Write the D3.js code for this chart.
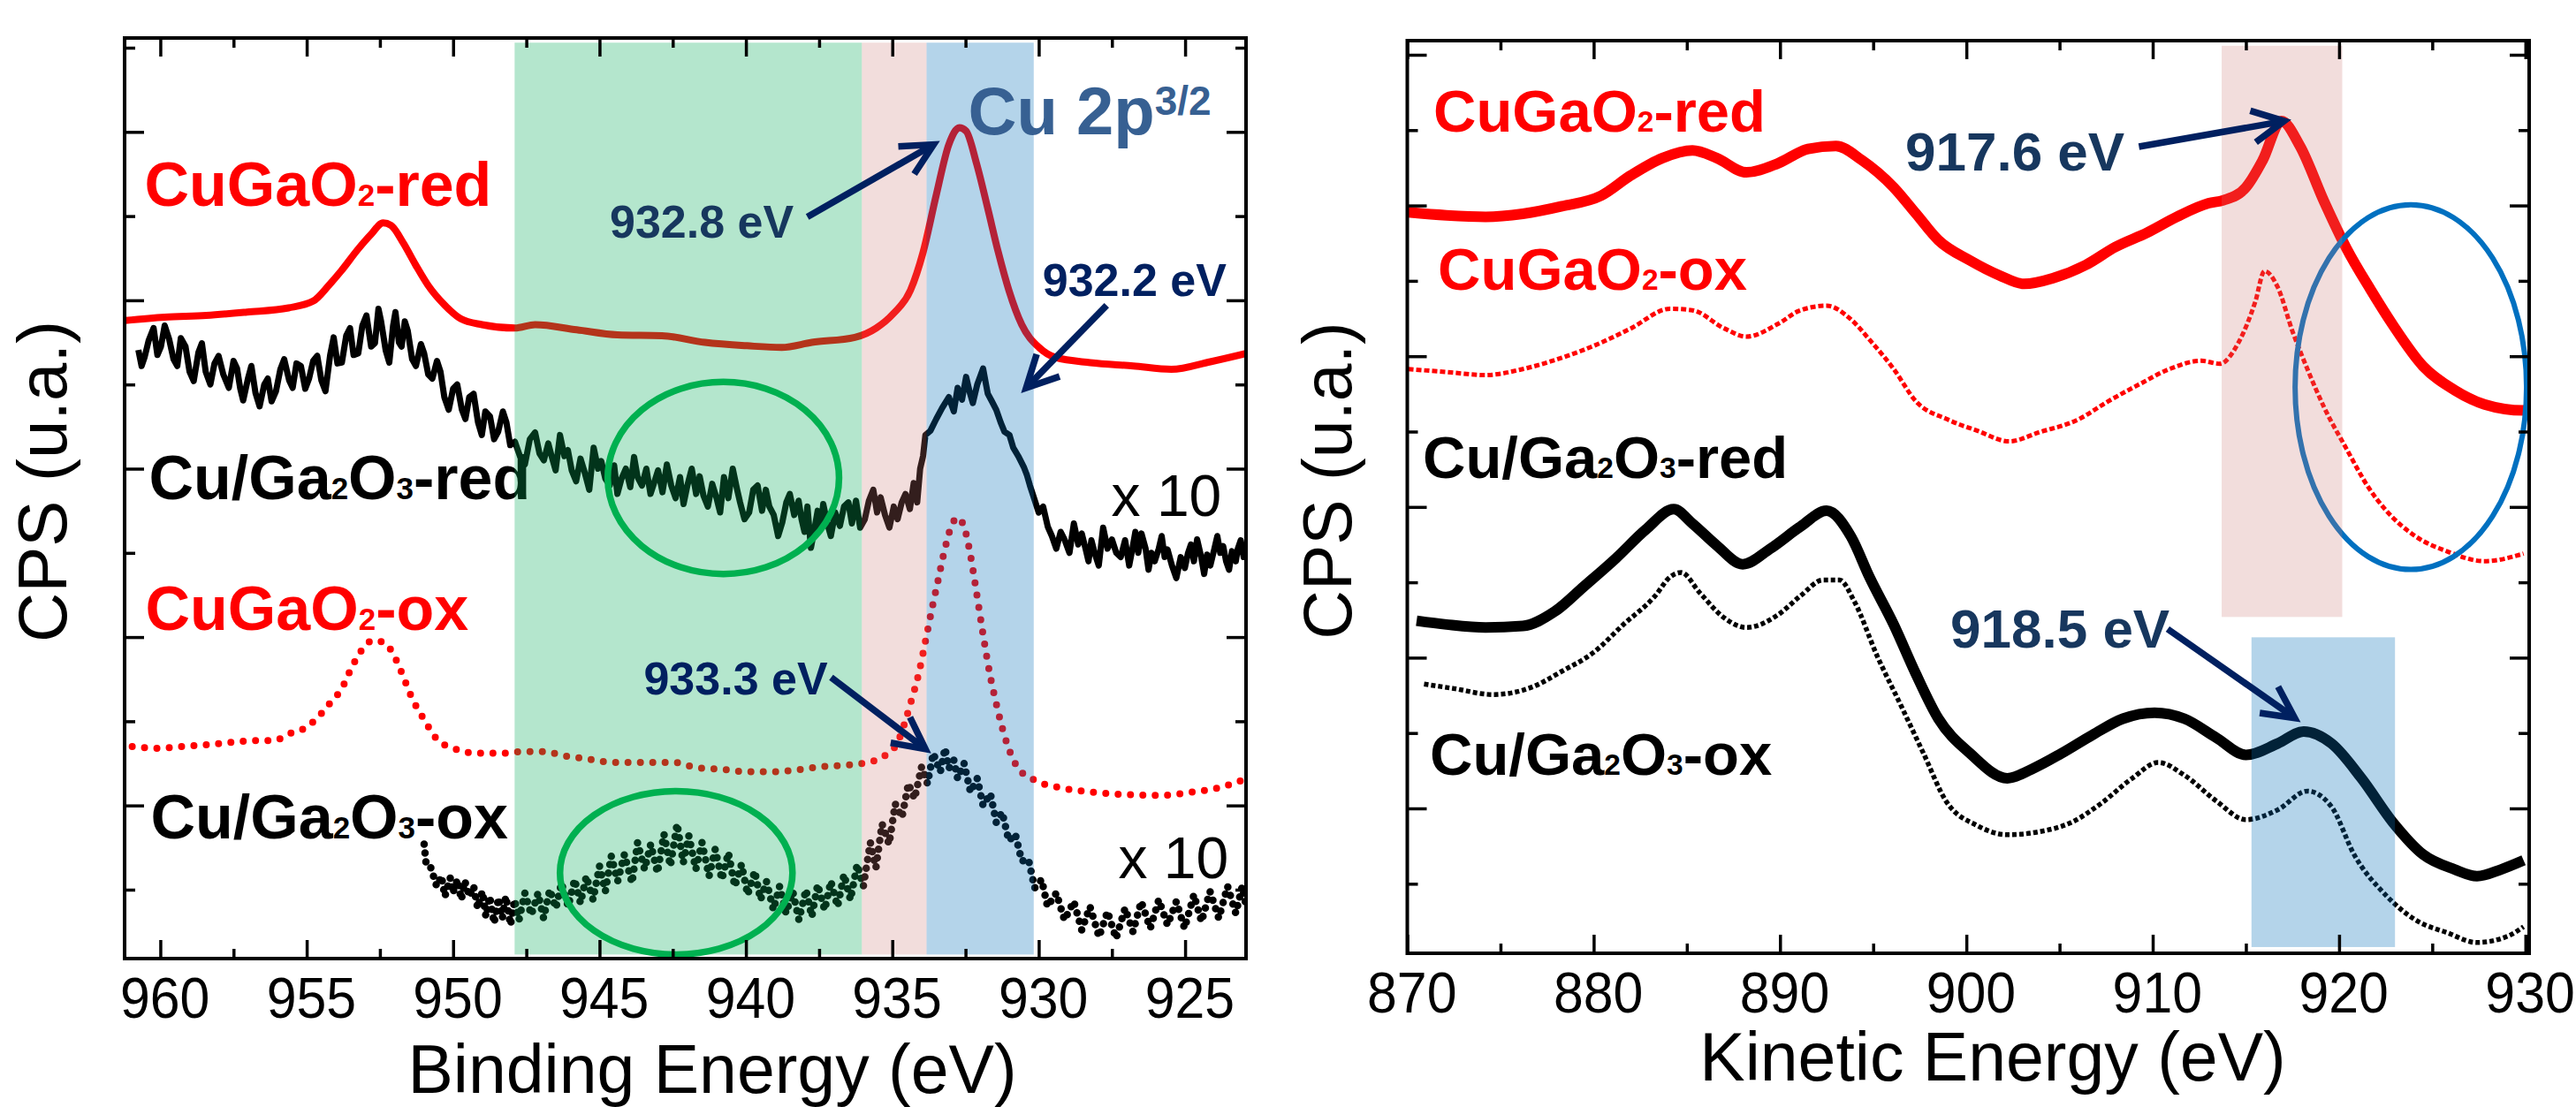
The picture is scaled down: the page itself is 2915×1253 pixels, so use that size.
<!DOCTYPE html>
<html>
<head>
<meta charset="utf-8">
<script src="https://cdn.jsdelivr.net/npm/d3@7"></script>
<style>
  html, body { margin: 0; padding: 0; background: #fff; }
  svg text { font-family: "Liberation Sans", Arial, Helvetica, sans-serif; }
</style>
</head>
<body>
<svg id="chart" width="2915" height="1253"></svg>
<script>
// ---------- data (energies in eV, intensities in arbitrary counts) ----------
var beMajor = [960, 955, 950, 945, 940, 935, 930, 925],
    beMinor = [957.5, 952.5, 947.5, 942.5, 937.5, 932.5, 927.5],
    keMajor = [870, 880, 890, 900, 910, 920, 930],
    keMinor = [875, 885, 895, 905, 915, 925],
    cpsMajor = [200, 400, 600, 800, 1000],
    cpsMinor = [100, 300, 500, 700, 900, 1100],
    cpsMinorR = [100, 300, 500, 700, 900, 1100],
    cpsMajorR = [200, 400, 600, 800, 1000, 1200];

// Cu 2p spectra (left)
var cuGaO2RedBE = [[961.2,776],[959.85,780],[958.43,782],[957.04,786],[955.62,791],[954.78,799],[954.24,818],[953.82,835],[953.24,861],[952.81,878],[952.39,892],[952.12,889],[951.70,868],[951.28,842],[950.86,818],[950.28,794],[949.74,778],[949.01,771],[947.89,767],[947.20,771],[945.78,765],[944.39,759],[942.87,758],[941.40,750],[939.96,746],[938.78,744],[937.75,750],[936.28,756],[935.55,767],[934.97,784],[934.38,812],[933.95,857],[933.50,925],[933.07,985],[932.71,1005],[932.48,1001],[932.12,962],[931.74,909],[931.38,857],[931.02,812],[930.58,771],[929.99,744],[929.42,732],[928.24,726],[926.77,722],[925.47,718],[924.14,727],[922.9,737]];

var cuGa2O3RedBE = [[960.75,741],[960.64,722],[960.54,732],[960.4,752],[960.23,767],[960.1,735],[959.98,745],[959.85,770],[959.70,754],[959.55,730],[959.42,722],[959.3,755],[959.14,745],[959.0,715],[958.86,704],[958.7,738],[958.58,749],[958.45,715],[958.29,700],[958.15,725],[958.01,734],[957.85,712],[957.66,696],[957.5,728],[957.38,719],[957.27,695],[957.17,681],[957.0,708],[956.89,722],[956.75,690],[956.61,674],[956.45,700],[956.33,707],[956.2,680],[956.05,692],[955.9,718],[955.77,730],[955.6,705],[955.48,696],[955.35,725],[955.20,722],[955.05,695],[954.92,707],[954.78,728],[954.64,734],[954.5,705],[954.36,692],[954.2,735],[954.08,756],[953.95,725],[953.80,726],[953.65,758],[953.52,767],[953.4,735],[953.24,737],[953.1,770],[952.96,782],[952.8,745],[952.67,749],[952.55,790],[952.46,775],[952.3,740],[952.18,726],[952.05,770],[951.97,786],[951.85,750],[951.76,745],[951.65,775],[951.55,764],[951.4,730],[951.27,722],[951.1,748],[950.99,737],[950.85,712],[950.71,707],[950.55,728],[950.43,715],[950.3,685],[950.15,670],[950.0,695],[949.86,700],[949.7,670],[949.58,659],[949.45,685],[949.30,689],[949.15,655],[949.02,640],[948.9,668],[948.74,662],[948.6,635],[948.46,644],[948.3,668],[948.18,655],[948.05,628],[947.89,632],[947.72,615],[947.55,605],[947.38,635],[947.20,643],[947.05,618],[946.9,610],[946.75,630],[946.63,614],[946.5,598],[946.35,640],[946.2,615],[946.08,622],[945.95,598],[945.8,585],[945.65,612],[945.51,596],[945.35,575],[945.2,625],[945.05,600],[944.94,609],[944.8,588],[944.65,580],[944.5,604],[944.39,570],[944.25,588],[944.1,600],[943.95,578],[943.82,614],[943.7,590],[943.55,580],[943.4,600],[943.26,570],[943.12,585],[943.0,598],[942.85,572],[942.70,605],[942.55,580],[942.4,565],[942.25,590],[942.13,558],[942.0,580],[941.85,600],[941.7,570],[941.58,591],[941.45,568],[941.3,555],[941.15,582],[941.01,566],[940.88,548],[940.75,590],[940.6,565],[940.45,600],[940.3,575],[940.2,560],[940.05,540],[939.89,548],[939.75,575],[939.6,580],[939.45,550],[939.32,575],[939.2,555],[939.05,545],[938.9,520],[938.76,536],[938.62,560],[938.5,570],[938.35,545],[938.20,562],[938.1,540],[938.0,525],[937.9,555],[937.78,506],[937.65,530],[937.55,550],[937.45,530],[937.36,558],[937.22,535],[937.1,520],[936.95,548],[936.79,532],[936.65,555],[936.5,560],[936.38,535],[936.24,562],[936.1,530],[935.94,540],[935.8,562],[935.65,575],[935.52,548],[935.40,566],[935.25,545],[935.1,530],[934.95,555],[934.82,540],[934.68,560],[934.55,570],[934.4,552],[934.27,583],[934.15,560],[934.05,600],[933.95,615],[933.87,640],[933.7,645],[933.50,659],[933.3,672],[933.07,685],[932.9,668],[932.77,696],[932.62,682],[932.48,709],[932.35,690],[932.25,678],[932.1,700],[931.90,719],[931.8,700],[931.74,689],[931.6,680],[931.45,670],[931.3,655],[931.17,644],[931.0,640],[930.87,625],[930.7,615],[930.51,602],[930.4,592],[930.30,580],[930.0,548],[929.85,555],[929.69,531],[929.55,520],[929.4,505],[929.25,525],[929.12,516],[928.95,500],[928.8,535],[928.65,510],[928.53,523],[928.4,505],[928.3,490],[928.2,515],[928.09,500],[927.95,485],[927.8,530],[927.65,505],[927.50,516],[927.35,500],[927.2,495],[927.05,515],[926.91,485],[926.8,505],[926.7,525],[926.6,500],[926.49,523],[926.35,505],[926.25,480],[926.15,500],[926.04,490],[925.9,505],[925.8,520],[925.7,495],[925.60,504],[925.45,485],[925.3,470],[925.15,495],[925.01,482],[924.9,500],[924.8,510],[924.7,490],[924.59,516],[924.45,495],[924.35,475],[924.25,498],[924.14,485],[924.0,505],[923.9,520],[923.8,500],[923.70,508],[923.6,490],[923.5,480],[923.4,502],[923.27,490],[923.2,505],[923.1,515],[923.0,495],[922.90,497]];

var cuGaO2OxBE = [[960.96,270],[960.12,268],[959.28,270],[958.43,272],[957.59,275],[956.75,277],[956.12,277],[955.62,285],[955.06,292],[954.64,304],[954.22,321],[953.80,339],[953.45,365],[953.09,386],[952.74,396],[952.39,394],[952.11,384],[951.76,358],[951.41,328],[950.99,302],[950.56,279],[950.00,268],[949.16,262],[948.32,262],[947.62,264],[946.91,264],[946.21,259],[945.37,255],[944.52,251],[943.46,251],[942.43,251],[941.71,245],[940.83,243],[939.94,240],[939.06,240],[938.33,242],[937.46,246],[936.57,248],[935.85,251],[935.26,259],[934.82,275],[934.38,321],[934.09,358],[933.87,395],[933.65,433],[933.44,467],[933.21,504],[932.99,531],[932.77,542],[932.55,531],[932.33,497],[932.12,452],[931.90,403],[931.68,358],[931.45,321],[931.17,283],[930.72,245],[930.14,230],[929.26,221],[928.24,216],[927.07,213],[925.89,212],[924.73,216],[923.85,221],[922.97,231]];

var cuGa2O3OxBE = [[950.99,154],[950.92,130],[950.78,128],[950.56,104],[950.40,116],[950.28,92],[950.1,114],[950.01,96],[949.85,112],[949.72,88],[949.6,110],[949.44,92],[949.3,104],[949.16,78],[949.0,98],[948.88,68],[948.75,92],[948.60,60],[948.45,90],[948.32,66],[948.2,92],[948.04,58],[947.9,88],[947.75,64],[947.55,96],[947.33,70],[947.1,96],[946.91,66],[946.7,100],[946.49,78],[946.3,108],[946.07,80],[945.85,112],[945.65,84],[945.45,116],[945.22,88],[945.0,128],[944.80,98],[944.6,140],[944.38,110],[944.15,142],[943.89,108],[943.7,156],[943.46,124],[943.25,154],[943.02,120],[942.8,166],[942.58,128],[942.35,178],[942.14,132],[941.95,164],[941.71,124],[941.5,156],[941.26,116],[941.05,148],[940.82,112],[940.6,144],[940.38,104],[940.15,130],[939.94,94],[939.7,122],[939.50,88],[939.3,110],[939.06,76],[938.85,104],[938.63,72],[938.4,98],[938.19,64],[937.95,100],[937.75,68],[937.55,106],[937.31,76],[937.1,110],[936.87,80],[936.65,118],[936.43,88],[936.2,130],[935.99,104],[935.75,156],[935.56,126],[935.35,178],[935.11,154],[934.9,202],[934.67,186],[934.45,226],[934.24,208],[934.0,246],[933.80,226],[933.6,262],[933.36,240],[933.2,268],[933.07,244],[932.9,254],[932.77,232],[932.55,250],[932.33,216],[932.1,232],[931.90,200],[931.65,214],[931.45,180],[931.25,192],[931.02,158],[930.8,166],[930.58,134],[930.35,136],[930.14,102],[929.9,112],[929.70,80],[929.4,96],[929.12,64],[928.8,86],[928.53,52],[928.25,80],[927.94,44],[927.65,74],[927.36,42],[927.05,78],[926.78,50],[926.5,86],[926.19,54],[925.9,88],[925.60,58],[925.3,86],[925.02,54],[924.7,94],[924.44,62],[924.15,98],[923.85,66],[923.55,104],[923.27,72],[923.05,104],[922.90,78]];

// Auger spectra (right)
var cuGaO2RedKE = [[870.05,991],[872.1,987],[874.2,985],[876.2,989],[878.3,999],[880.4,1013],[882.0,1040],[883.7,1063],[885.3,1073],[886.6,1063],[888.2,1044],[889.9,1056],[891.5,1075],[893.0,1079],[894.4,1060],[896.1,1024],[897.3,989],[898.5,954],[900.2,927],[901.8,907],[903.1,896],[904.7,904],[906.4,921],[908.0,945],[909.7,964],[911.3,985],[913.0,1003],[913.8,1007],[915.0,1024],[915.9,1060],[916.9,1112],[917.9,1079],[919.2,1005],[920.4,943],[921.7,888],[922.9,841],[924.5,787],[926.2,755],[927.8,736],[929.9,728],[930.2,730]];

var cuGaO2OxKE = [[870.05,783],[872.1,779],[874.2,775],[876.2,783],[878.3,798],[880.4,818],[882.0,837],[884.1,863],[885.3,861],[887.0,837],[888.2,826],[889.9,843],[891.1,861],[892.5,867],[893.8,849],[894.8,822],[896.1,783],[897.3,740],[899.0,716],[900.6,701],[902.3,687],[903.9,699],[906.0,716],[907.6,740],[909.3,763],[910.9,783],[912.6,794],[913.6,790],[914.6,818],[915.5,872],[916.0,913],[916.7,892],[917.5,833],[918.3,783],[919.2,732],[920.4,677],[921.6,625],[922.5,596],[924.1,561],[925.8,541],[927.8,528],[929.9,538]];

var cuGa2O3RedKE = [[870.5,449],[872.1,444],[874.2,440],[876.2,442],[877.9,461],[879.5,495],[881.2,532],[882.8,570],[884.3,597],[885.3,578],[886.6,549],[888.0,524],[889.5,545],[891.1,574],[892.5,595],[893.8,561],[894.8,507],[896.1,444],[897.3,378],[898.5,319],[900.2,273],[902.2,240],[903.5,252],[905.1,273],[906.8,298],[908.4,319],[910.1,327],[911.7,319],[913.4,294],[915.0,271],[916.7,286],[918.1,302],[919.6,286],[921.2,240],[922.9,181],[924.5,139],[926.2,119],[927.4,110],[928.7,119],[929.9,131]];

var cuGa2O3OxKE = [[870.9,365],[872.5,359],[874.6,351],[876.7,361],[878.3,382],[880.0,407],[881.6,444],[883.3,482],[884.1,507],[884.7,513],[885.7,486],[887.0,453],[888.2,440],[889.9,457],[891.1,482],[892.3,503],[893.2,503],[894.0,474],[895.2,403],[896.5,336],[897.7,273],[898.9,210],[900.6,177],[902.2,165],[903.9,169],[905.6,181],[907.2,206],[908.9,240],[910.3,261],[911.7,244],[913.4,210],[915.0,185],[916.7,198],[918.3,223],[919.6,202],[920.8,139],[922.5,85],[924.1,52],[925.8,35],[927.4,22],[929.1,31],[929.9,43]];

// shaded windows [from eV, to eV, low cps, high cps]
var bandsBE = [[947.9, 936.04, 23, 1106, "green"], [936.04, 933.83, 23, 1106, "pink"], [933.83, 930.17, 23, 1106, "blue"]];
var bandsKE = [[913.7, 920.17, 454, 1212, "pink"], [915.3, 923.0, 16, 427, "blue"]];

// highlighted regions [centre eV, centre cps, half width eV, half height cps]
var circlesBE = [[940.77, 589, 3.95, 114], [942.38, 120, 3.97, 97]];
var circlesKE = [[923.85, 759, 6.21, 242]];

// peak annotations
var arrowsBE = [[937.90, 899, 933.59, 985], [927.68, 794, 930.43, 696], [937.09, 352, 933.87, 267]];
var arrowsKE = [[909.26, 1078, 917.05, 1112], [910.80, 438, 917.62, 320]];
var notesBE = [["932.8 eV", 944.65, 874, "#17375e"], ["932.2 eV", 929.87, 805, "#002060"], ["933.3 eV", 943.49, 332, "#002060"]];
var notesKE = [["917.6 eV", 896.72, 1046, "#17375e"], ["918.5 eV", 899.14, 413, "#17375e"]];
var gainBE = [[927.52, 544], [927.28, 114]];

// sample labels: [pieces, eV, cps, colour]
var labelsBE = [
  [["CuGaO", "2", "-red"], 960.54, 912, "#ff0000"],
  [["Cu/Ga", "2", "O", "3", "-red"], 960.39, 564, "#000"],
  [["CuGaO", "2", "-ox"], 960.51, 409, "#ff0000"],
  [["Cu/Ga", "2", "O", "3", "-ox"], 960.33, 161, "#000"]
];
var labelsKE = [
  [["CuGaO", "2", "-red"], 871.40, 1098, "#ff0000"],
  [["CuGaO", "2", "-ox"], 871.64, 888, "#ff0000"],
  [["Cu/Ga", "2", "O", "3", "-red"], 870.83, 638, "#000"],
  [["Cu/Ga", "2", "O", "3", "-ox"], 871.21, 245, "#000"]
];

var bandFill = {
  green: {c: "rgb(5,172,88)", o: 0.3},
  pink: {c: "rgb(203,119,115)", o: 0.25},
  blue: {c: "rgb(5,112,185)", o: 0.3}
};

var svg = d3.select("#chart");

// ---------- helpers ----------
function drawAxes(g, box, x, y, xMaj, xMin, yMaj, yMin) {
  var fmt = d3.format("d");
  var bot = g.append("g").attr("transform", "translate(0," + box.bottom + ")");
  bot.call(d3.axisBottom(x).tickValues(xMaj).tickSizeInner(-21).tickSizeOuter(0).tickPadding(22).tickFormat(fmt));
  bot.append("g").call(d3.axisBottom(x).tickValues(xMin).tickSizeInner(-11).tickSizeOuter(0).tickFormat(""));
  bot.selectAll("text")
    .attr("font-size", 64)
    .attr("font-family", "Liberation Sans, Arial, sans-serif")
    .attr("fill", "#000")
    .attr("transform", "scale(0.95,1)")
    .attr("dx", 5);

  var top = g.append("g").attr("transform", "translate(0," + box.top + ")");
  top.call(d3.axisTop(x).tickValues(xMaj).tickSizeInner(-21).tickSizeOuter(0).tickFormat(""));
  top.append("g").call(d3.axisTop(x).tickValues(xMin).tickSizeInner(-11).tickSizeOuter(0).tickFormat(""));

  var lft = g.append("g").attr("transform", "translate(" + box.left + ",0)");
  lft.call(d3.axisLeft(y).tickValues(yMaj).tickSizeInner(-22).tickSizeOuter(0).tickFormat(""));
  lft.append("g").call(d3.axisLeft(y).tickValues(yMin).tickSizeInner(-12).tickSizeOuter(0).tickFormat(""));

  var rgt = g.append("g").attr("transform", "translate(" + box.right + ",0)");
  rgt.call(d3.axisRight(y).tickValues(yMaj).tickSizeInner(-22).tickSizeOuter(0).tickFormat(""));
  rgt.append("g").call(d3.axisRight(y).tickValues(yMin).tickSizeInner(-12).tickSizeOuter(0).tickFormat(""));

  g.selectAll(".domain").remove();
  g.selectAll(".tick line").attr("stroke", "#000").attr("stroke-width", 3.5);

  g.append("rect")
    .attr("x", box.left).attr("y", box.top)
    .attr("width", box.right - box.left).attr("height", box.bottom - box.top)
    .attr("fill", "none").attr("stroke", "#000").attr("stroke-width", 4);
}

function drawLabel(g, d, x, y, size) {
  var t = g.append("text")
    .attr("x", x(d[1])).attr("y", y(d[2]))
    .attr("font-size", size).attr("font-weight", "bold")
    .attr("fill", d[3]);
  d[0].forEach(function(p, i) {
    t.append("tspan")
      .attr("font-size", i % 2 ? size * 0.5 : size)
      .text(p);
  });
}

function drawArrow(g, a, x, y) {
  var x1 = x(a[0]), y1 = y(a[1]), x2 = x(a[2]), y2 = y(a[3]);
  var ang = Math.atan2(y2 - y1, x2 - x1), len = 40, spread = 0.47;
  var head = [
    [x2 - len * Math.cos(ang - spread), y2 - len * Math.sin(ang - spread)],
    [x2, y2],
    [x2 - len * Math.cos(ang + spread), y2 - len * Math.sin(ang + spread)]
  ];
  g.append("line")
    .attr("x1", x1).attr("y1", y1).attr("x2", x2 - 3 * Math.cos(ang)).attr("y2", y2 - 3 * Math.sin(ang))
    .attr("stroke", "#002060").attr("stroke-width", 7.5);
  g.append("path")
    .attr("d", d3.line()(head))
    .attr("fill", "none").attr("stroke", "#002060")
    .attr("stroke-width", 7.5).attr("stroke-linejoin", "miter");
}

function drawBands(g, bands, x, y) {
  g.selectAll(null).data(bands).enter().append("rect")
    .attr("x", function(d) { return Math.min(x(d[0]), x(d[1])); })
    .attr("width", function(d) { return Math.abs(x(d[1]) - x(d[0])); })
    .attr("y", function(d) { return y(d[3]); })
    .attr("height", function(d) { return y(d[2]) - y(d[3]); })
    .attr("fill", function(d) { return bandFill[d[4]].c; })
    .attr("fill-opacity", function(d) { return bandFill[d[4]].o; });
}

function drawCircles(g, list, x, y, colour, width) {
  g.selectAll(null).data(list).enter().append("ellipse")
    .attr("cx", function(d) { return x(d[0]); })
    .attr("cy", function(d) { return y(d[1]); })
    .attr("rx", function(d) { return Math.abs(x(d[0] + d[2]) - x(d[0])); })
    .attr("ry", function(d) { return Math.abs(y(d[1] + d[3]) - y(d[1])); })
    .attr("fill", "none").attr("stroke", colour).attr("stroke-width", width);
}

// ---------- left panel: Cu 2p ----------
var L = {left: 141, right: 1410, top: 43, bottom: 1085};
var xL = d3.scaleLinear().domain([961.22, 922.92]).range([L.left, L.right]);
var yL = d3.scaleLinear().domain([0, 1100]).range([1102.3, 54]);

svg.append("clipPath").attr("id", "clipL").append("rect")
  .attr("x", L.left).attr("y", L.top).attr("width", L.right - L.left).attr("height", L.bottom - L.top);

var gL = svg.append("g");
var plotL = gL.append("g").attr("clip-path", "url(#clipL)");

var smoothL = d3.line().x(function(d) { return xL(d[0]); }).y(function(d) { return yL(d[1]); }).curve(d3.curveMonotoneX);
var rawL = d3.line().x(function(d) { return xL(d[0]); }).y(function(d) { return yL(d[1]); });

plotL.append("path").datum(cuGaO2RedBE).attr("d", smoothL)
  .attr("fill", "none").attr("stroke", "#ff0000").attr("stroke-width", 8).attr("stroke-linejoin", "round");
plotL.append("path").datum(cuGa2O3RedBE).attr("d", rawL)
  .attr("fill", "none").attr("stroke", "#000").attr("stroke-width", 7).attr("stroke-linejoin", "round");
plotL.append("path").datum(cuGaO2OxBE).attr("d", smoothL)
  .attr("fill", "none").attr("stroke", "#ff0000").attr("stroke-width", 8)
  .attr("stroke-linecap", "round").attr("stroke-dasharray", "0 14");
plotL.append("path").datum(cuGa2O3OxBE).attr("d", rawL)
  .attr("fill", "none").attr("stroke", "#000").attr("stroke-width", 8.5)
  .attr("stroke-linecap", "round").attr("stroke-dasharray", "0 10");

labelsBE.forEach(function(d) { drawLabel(gL, d, xL, yL, 70); });
drawBands(gL, bandsBE, xL, yL);
drawCircles(gL, circlesBE, xL, yL, "#00b050", 7.5);

gL.selectAll(null).data(gainBE).enter().append("text")
  .attr("x", function(d) { return xL(d[0]); })
  .attr("y", function(d) { return yL(d[1]); })
  .attr("font-size", 66).attr("fill", "#000")
  .text("x 10");

notesBE.forEach(function(n) {
  gL.append("text").attr("x", xL(n[1])).attr("y", yL(n[2]))
    .attr("font-size", 52).attr("font-weight", "bold").attr("fill", n[3]).text(n[0]);
});
arrowsBE.forEach(function(a) { drawArrow(gL, a, xL, yL); });

var cu2p = gL.append("text").attr("x", xL(932.41)).attr("y", yL(997))
  .attr("font-size", 76).attr("font-weight", "bold").attr("fill", "#376092");
cu2p.append("tspan").text("Cu 2p");
cu2p.append("tspan").attr("font-size", 46).attr("dy", -22).text("3/2");

drawAxes(gL, L, xL, yL, beMajor, beMinor, cpsMajor, cpsMinor);

gL.append("text").attr("x", 806).attr("y", 1237)
  .attr("text-anchor", "middle").attr("font-size", 77).text("Binding Energy (eV)");
gL.append("text").attr("transform", "translate(75,545) rotate(-90)")
  .attr("text-anchor", "middle").attr("font-size", 78).text("CPS (u.a.)");

// ---------- right panel: Cu LMM Auger ----------
var R = {left: 1592.5, right: 2862, top: 46, bottom: 1079};
var xR = d3.scaleLinear().domain([870, 930.2]).range([R.left, R.right]);
var yR = d3.scaleLinear().domain([0, 1200]).range([1085.6, 62]);

svg.append("clipPath").attr("id", "clipR").append("rect")
  .attr("x", R.left).attr("y", R.top).attr("width", R.right - R.left).attr("height", R.bottom - R.top);

var gR = svg.append("g");
var plotR = gR.append("g").attr("clip-path", "url(#clipR)");

var smoothR = d3.line().x(function(d) { return xR(d[0]); }).y(function(d) { return yR(d[1]); }).curve(d3.curveMonotoneX);

plotR.append("path").datum(cuGaO2RedKE).attr("d", smoothR)
  .attr("fill", "none").attr("stroke", "#ff0000").attr("stroke-width", 12).attr("stroke-linejoin", "round");
plotR.append("path").datum(cuGaO2OxKE).attr("d", smoothR)
  .attr("fill", "none").attr("stroke", "#ff0000").attr("stroke-width", 5).attr("stroke-dasharray", "6 3");
plotR.append("path").datum(cuGa2O3RedKE).attr("d", smoothR)
  .attr("fill", "none").attr("stroke", "#000").attr("stroke-width", 12).attr("stroke-linejoin", "round");
plotR.append("path").datum(cuGa2O3OxKE).attr("d", smoothR)
  .attr("fill", "none").attr("stroke", "#000").attr("stroke-width", 5.5).attr("stroke-dasharray", "5 3");

drawCircles(gR, circlesKE, xR, yR, "#0070c0", 6);
drawBands(gR, bandsKE, xR, yR);

labelsKE.forEach(function(d) { drawLabel(gR, d, xR, yR, 67); });
notesKE.forEach(function(n) {
  gR.append("text").attr("x", xR(n[1])).attr("y", yR(n[2]))
    .attr("font-size", 62).attr("font-weight", "bold").attr("fill", n[3]).text(n[0]);
});
arrowsKE.forEach(function(a) { drawArrow(gR, a, xR, yR); });

drawAxes(gR, R, xR, yR, keMajor, keMinor, cpsMajorR, cpsMinorR);

gR.append("text").attr("x", 2255).attr("y", 1223)
  .attr("text-anchor", "middle").attr("font-size", 77).text("Kinetic Energy (eV)");
gR.append("text").attr("transform", "translate(1529,544) rotate(-90)")
  .attr("text-anchor", "middle").attr("font-size", 77).text("CPS (u.a.)");
</script>
</body>
</html>
